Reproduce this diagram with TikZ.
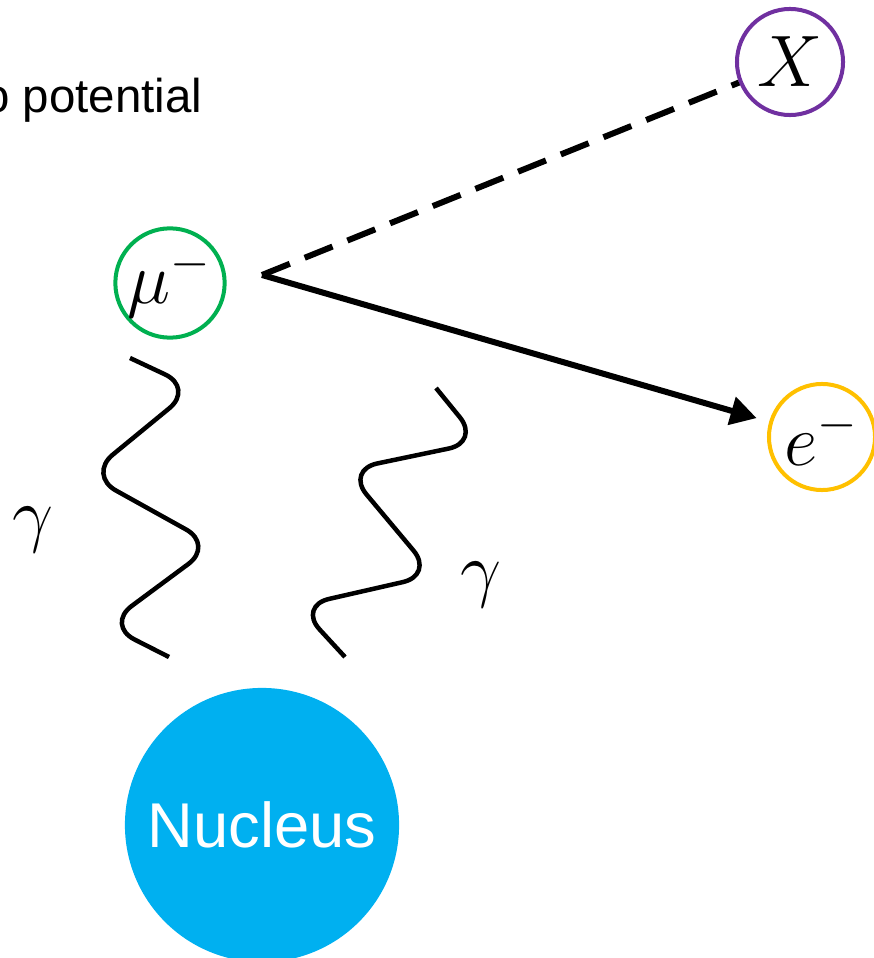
\documentclass[tikz,border=0pt]{standalone}
\usepackage{fontspec}
\setmainfont{Liberation Sans}
\usetikzlibrary{arrows.meta}
\definecolor{muongreen}{HTML}{00B050}
\definecolor{xpurple}{HTML}{7030A0}
\definecolor{eyellow}{HTML}{FFC000}
\definecolor{nucblue}{HTML}{00B0F0}
\begin{document}
\begin{tikzpicture}[x=0.01cm,y=-0.01cm,
    particle/.style={circle,draw,line width=0.04cm,minimum size=1.06cm,inner sep=0pt,
      font=\fontsize{21}{25}\selectfont},
    photon/.style={line width=0.045cm,rounded corners=0.32cm},
    glabel/.style={font=\fontsize{21}{25}\selectfont}]
    \useasboundingbox (0,0) rectangle (873,958);
    \node[anchor=base east,inner sep=0pt,font=\fontsize{13.5}{16}\selectfont] (txt) at (203,113) {o potential};
    \node[particle,draw=xpurple] (X) at (790,62) {$X$};
    \node[particle,draw=muongreen] (mu) at (170,283) {$\mu^-$};
    \node[particle,draw=eyellow] (e) at (822,437) {$e^-$};
    \node[circle,fill=nucblue,minimum size=2.74cm,text=white,
      font=\fontsize{18}{22}\selectfont] (nuc) at (262,825) {Nucleus};
    \coordinate (vtx) at (262,275); % decay point
    \draw[line width=0.06cm,dash pattern=on 0.3cm off 0.16cm] (vtx)--(X);
    \draw[line width=0.06cm,-{Triangle[length=0.26cm,width=0.28cm]},shorten >=0.13cm] (vtx)--(e);
    % photons
    \draw[photon] (130,358)--(194,388)--(88,475)--(214,545)--(106,625)--(169,657);
    \draw[photon] (436,388)--(480,442)--(346,470)--(434,575)--(298,606)--(345,657);
    \node[glabel] (g1) at (33,530) {$\gamma$};
    \node[glabel] (g2) at (481,585) {$\gamma$};
\end{tikzpicture}
\end{document}
